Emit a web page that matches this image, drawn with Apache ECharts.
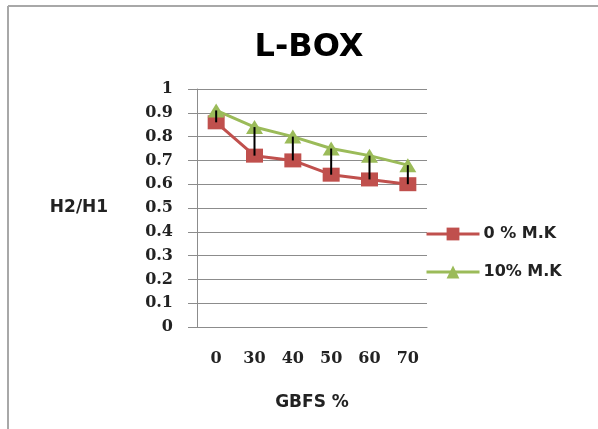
<!DOCTYPE html>
<html>
<head>
<meta charset="utf-8">
<script src="https://cdn.jsdelivr.net/npm/echarts@6/dist/echarts.min.js"></script>
<style>html,body{margin:0;padding:0;background:#fff;}#c{width:598px;height:429px;}</style>
</head>
<body>
<div id="c"></div>
<script>
const categories = ['0', '30', '40', '50', '60', '70'];
const mk0 = [0.86, 0.72, 0.70, 0.64, 0.62, 0.60];
const mk10 = [0.91, 0.84, 0.80, 0.75, 0.72, 0.68];
const yTicks = [0, 0.1, 0.2, 0.3, 0.4, 0.5, 0.6, 0.7, 0.8, 0.9, 1];
const seriesNames = ['0 % M.K', '10% M.K'];

const chart = echarts.init(document.getElementById('c'), null, {renderer: 'canvas'});
const gray = '#8c8c8c';
const rangeData = categories.map((c, i) => [i, mk0[i], mk10[i]]);

chart.setOption({
  animation: false,
  backgroundColor: '#fff',
  title: {
    text: 'L-BOX', left: 304, top: 27, textAlign: 'center',
    textStyle: {fontFamily: 'DejaVu Sans', fontWeight: 'bold', fontSize: 32, color: '#000'}
  },
  graphic: [
    {type: 'line', shape: {x1: 8, y1: 6, x2: 598, y2: 6}, style: {stroke: '#a8a8a8', lineWidth: 2}},
    {type: 'line', shape: {x1: 8, y1: 6, x2: 8, y2: 429}, style: {stroke: '#a8a8a8', lineWidth: 2}}
  ],
  legend: {
    orient: 'vertical', left: 425, top: 226, padding: 0,
    itemWidth: 53, itemHeight: 16, itemGap: 22,
    data: seriesNames,
    lineStyle: {width: 3},
    textStyle: {fontFamily: 'DejaVu Sans', fontWeight: 'bold', fontSize: 16, color: '#222', padding: [0, 0, 0, -1]}
  },
  grid: {left: 197, right: 171, top: 89, bottom: 102},
  xAxis: {
    type: 'category', data: categories, boundaryGap: true,
    name: 'GBFS %', nameLocation: 'middle', nameGap: 76,
    nameTextStyle: {fontFamily: 'DejaVu Sans', fontWeight: 'bold', fontSize: 17, color: '#222', verticalAlign: 'middle'},
    axisLine: {show: true, lineStyle: {color: gray}},
    axisTick: {show: false},
    axisLabel: {margin: 24, fontFamily: 'DejaVu Serif', fontWeight: 'bold', fontSize: 16, color: '#222'}
  },
  yAxis: {
    type: 'value', min: 0, max: 1, interval: 0.1,
    name: 'H2/H1', nameLocation: 'middle', nameGap: 118, nameRotate: 0,
    nameTextStyle: {fontFamily: 'DejaVu Sans', fontWeight: 'bold', fontSize: 17, color: '#222', align: 'center', verticalAlign: 'middle'},
    axisLine: {show: true, lineStyle: {color: gray}},
    axisTick: {show: true, length: 9, lineStyle: {color: gray}},
    splitLine: {show: true, lineStyle: {color: gray}},
    axisLabel: {margin: 24, fontFamily: 'DejaVu Serif', fontWeight: 'bold', fontSize: 16, color: '#222',
      formatter: v => String(Math.round(v * 10) / 10)}
  },
  series: [
    {
      name: seriesNames[0], type: 'line', data: mk0,
      symbol: 'rect', symbolSize: [17, 14],
      lineStyle: {color: '#C0504D', width: 3}, itemStyle: {color: '#C0504D'}, z: 3
    },
    {
      name: seriesNames[1], type: 'line', data: mk10,
      symbol: 'triangle', symbolSize: [17, 14],
      lineStyle: {color: '#9BBB59', width: 3}, itemStyle: {color: '#9BBB59'}, z: 3
    },
    {
      type: 'custom', data: rangeData, z: 5, silent: true,
      renderItem: (params, api) => {
        const a = api.coord([api.value(0), api.value(1)]);
        const b = api.coord([api.value(0), api.value(2)]);
        return {type: 'line', shape: {x1: a[0], y1: a[1], x2: b[0], y2: b[1]}, style: {stroke: '#000', lineWidth: 2}};
      }
    }
  ]
});
</script>
</body>
</html>
